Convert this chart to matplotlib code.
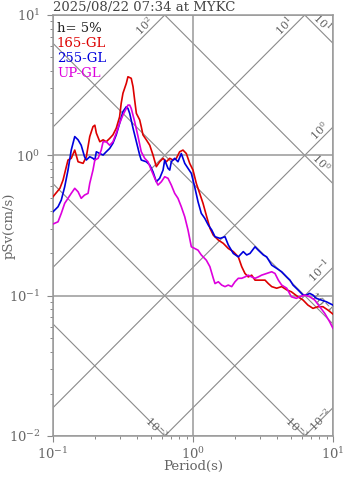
import numpy as np
import matplotlib.pyplot as plt

plt.rcParams['font.family'] = ['DejaVu Serif']
plt.rcParams['mathtext.fontset'] = 'dejavuserif'

TITLE = '2025/08/22 07:34 at MYKC'
DAMPING = 'h= 5%'

# period (s) / pseudo velocity response (cm/s)
red_T = [0.100, 0.112, 0.118, 0.1245, 0.128, 0.135, 0.143, 0.151, 0.164, 0.173,
         0.183, 0.193, 0.199, 0.204, 0.216, 0.228, 0.240, 0.254, 0.268, 0.283,
         0.299, 0.307, 0.316, 0.334, 0.343, 0.362, 0.373, 0.383, 0.394, 0.416,
         0.427, 0.439, 0.464, 0.491, 0.518, 0.547, 0.578, 0.611, 0.645, 0.682,
         0.720, 0.760, 0.803, 0.848, 0.896, 0.947, 1.000, 1.056, 1.116, 1.179,
         1.253, 1.322, 1.396, 1.517, 1.645, 1.786, 1.940, 2.107, 2.228, 2.350,
         2.483, 2.624, 2.773, 3.01, 3.27, 3.45, 3.65, 3.96, 4.30, 4.67,
         5.04, 5.62, 6.11, 6.62, 7.19, 7.81, 8.48, 9.21, 10.0]
red_sv = [0.507, 0.582, 0.667, 0.830, 0.926, 0.952, 1.09, 0.90, 0.877, 0.977,
          1.36, 1.60, 1.64, 1.44, 1.25, 1.29, 1.25, 1.32, 1.40, 1.56,
          1.88, 2.35, 2.77, 3.26, 3.63, 3.54, 3.08, 2.48, 1.99, 1.79,
          1.60, 1.40, 1.29, 1.18, 1.005, 0.83, 0.90, 0.952, 0.90, 0.952,
          0.926, 0.952, 1.06, 1.09, 1.03, 0.877, 0.785, 0.631, 0.536, 0.455,
          0.365, 0.302, 0.270, 0.249, 0.236, 0.217, 0.206, 0.189, 0.161, 0.144,
          0.136, 0.140, 0.129, 0.129, 0.129, 0.122, 0.116, 0.113, 0.116, 0.110,
          0.1066, 0.0982, 0.0931, 0.0857, 0.0812, 0.0834, 0.0834, 0.0789, 0.0739]

blue_T = [0.100, 0.1086, 0.1146, 0.1212, 0.128, 0.135, 0.143, 0.151, 0.159, 0.168,
          0.173, 0.183, 0.193, 0.199, 0.204, 0.216, 0.228, 0.240, 0.254, 0.268,
          0.283, 0.299, 0.316, 0.334, 0.343, 0.353, 0.373, 0.394, 0.416, 0.427,
          0.464, 0.491, 0.518, 0.547, 0.578, 0.611, 0.628, 0.663, 0.682, 0.700,
          0.740, 0.781, 0.825, 0.873, 0.921, 0.973, 1.028, 1.086, 1.146, 1.213,
          1.285, 1.36, 1.436, 1.56, 1.693, 1.786, 1.94, 2.107, 2.286, 2.418,
          2.553, 2.773, 2.926, 3.18, 3.36, 3.65, 3.96, 4.30, 4.67, 4.93,
          5.18, 5.62, 6.11, 6.44, 6.82, 7.19, 7.60, 8.24, 8.96, 10.0]
blue_sv = [0.396, 0.430, 0.480, 0.597, 0.785, 1.09, 1.36, 1.29, 1.18, 0.977,
           0.926, 0.977, 0.952, 0.926, 1.06, 1.03, 1.005, 1.06, 1.12, 1.22,
           1.40, 1.69, 2.05, 2.22, 2.16, 1.99, 1.56, 1.25, 1.005, 0.926,
           0.90, 0.853, 0.764, 0.648, 0.686, 0.785, 0.926, 0.808, 0.785, 0.90,
           0.952, 0.90, 1.03, 0.877, 0.808, 0.744, 0.597, 0.467, 0.386, 0.356,
           0.319, 0.294, 0.263, 0.256, 0.263, 0.230, 0.200, 0.189, 0.206, 0.195,
           0.200, 0.223, 0.211, 0.195, 0.189, 0.165, 0.1565, 0.148, 0.136, 0.129,
           0.119, 0.110, 0.101, 0.101, 0.1038, 0.101, 0.0957, 0.0931, 0.0905, 0.0857]

mag_T = [0.100, 0.1086, 0.1146, 0.1212, 0.128, 0.135, 0.143, 0.151, 0.159, 0.168,
         0.178, 0.183, 0.193, 0.199, 0.210, 0.221, 0.228, 0.240, 0.254, 0.268,
         0.283, 0.299, 0.316, 0.334, 0.343, 0.353, 0.362, 0.383, 0.405, 0.427,
         0.452, 0.477, 0.504, 0.533, 0.562, 0.594, 0.628, 0.663, 0.700, 0.740,
         0.781, 0.825, 0.873, 0.921, 0.973, 1.028, 1.086, 1.146, 1.245, 1.32,
         1.396, 1.436, 1.517, 1.603, 1.693, 1.786, 1.89, 1.995, 2.107, 2.228,
         2.35, 2.483, 2.624, 2.773, 2.926, 3.09, 3.36, 3.65, 3.85, 4.07,
         4.30, 4.67, 5.04, 5.47, 5.78, 6.28, 6.82, 7.40, 8.04, 8.73,
         9.46, 10.0]
mag_sv = [0.324, 0.336, 0.386, 0.455, 0.494, 0.536, 0.582, 0.550, 0.494, 0.521,
          0.536, 0.631, 0.785, 0.926, 0.952, 1.09, 1.25, 1.25, 1.18, 1.25,
          1.44, 1.69, 1.94, 2.16, 2.28, 2.28, 2.16, 1.74, 1.36, 1.06,
          0.952, 0.90, 0.785, 0.686, 0.614, 0.648, 0.704, 0.686, 0.614, 0.536,
          0.494, 0.430, 0.365, 0.294, 0.223, 0.217, 0.211, 0.195, 0.179, 0.161,
          0.133, 0.122, 0.1256, 0.119, 0.116, 0.119, 0.116, 0.1256, 0.133, 0.133,
          0.136, 0.140, 0.136, 0.133, 0.136, 0.140, 0.144, 0.148, 0.144, 0.129,
          0.119, 0.113, 0.0982, 0.0957, 0.0982, 0.101, 0.0982, 0.0931, 0.0834, 0.0748,
          0.0652, 0.0585]

SERIES = [('165-GL', red_T, red_sv, '#dd0000'),
          ('255-GL', blue_T, blue_sv, '#0000dd'),
          ('UP-GL', mag_T, mag_sv, '#dd00dd')]

# tripartite guide lines: acceleration (cm/s^2) and displacement (cm)
ACC_VALUES = [1e-2, 1e-1, 1e0, 1e1, 1e2]
DISP_VALUES = [1e-3, 1e-2, 1e-1, 1e0, 1e1]
ACC_TEXT = ['-2', '-1', '0', '1', '2']
DISP_TEXT = ['-3', '-3', '-1', '0', '1']

T_MIN, T_MAX = 0.1, 10.0
SV_MIN, SV_MAX = 0.01, 10.0

GRAY = '#666666'
LINE_GRAY = '#8a8a8a'
FS = 9.5


def acc_end(a):
    t_top = 2 * np.pi * SV_MAX / a
    if t_top <= T_MAX:
        return t_top, SV_MAX
    return T_MAX, a * T_MAX / (2 * np.pi)


def disp_end(d):
    t_bot = 2 * np.pi * d / SV_MIN
    if t_bot <= T_MAX:
        return t_bot, SV_MIN
    return T_MAX, 2 * np.pi * d / T_MAX


fig = plt.figure(figsize=(3.47, 4.78), dpi=100)
ax = fig.add_axes([53 / 347, 1 - 436 / 478, 280 / 347, 421 / 478])
ax.set_xscale('log')
ax.set_yscale('log')
ax.set_xlim(T_MIN, T_MAX)
ax.set_ylim(SV_MIN, SV_MAX)

px_per_dec = 280 / 2.0
t_line = np.array([0.01, 100.0])

for a, s in zip(ACC_VALUES, ACC_TEXT):
    ax.plot(t_line, a * t_line / (2 * np.pi), color=LINE_GRAY, lw=0.8, zorder=1)
    te, se = acc_end(a)
    at_top = se == SV_MAX
    back = 22 if at_top else (17 if a < 0.05 else 12)
    dl = back / (np.sqrt(2) * px_per_dec)
    ax.text(te * 10 ** -dl, se * 10 ** -dl, r'$\mathdefault{10^{%s}}$' % s,
            rotation=45, rotation_mode='anchor', ha='center',
            va='center' if a < 0.05 else 'bottom',
            fontsize=8, color=GRAY, zorder=1)

for d, s in zip(DISP_VALUES, DISP_TEXT):
    ax.plot(t_line, 2 * np.pi * d / t_line, color=LINE_GRAY, lw=0.8, zorder=1)
    te, se = disp_end(d)
    at_bot = se == SV_MIN
    back = 12 if at_bot else 23
    dl = back / (np.sqrt(2) * px_per_dec)
    ax.text(te * 10 ** -dl, se * 10 ** dl, r'$\mathdefault{10^{%s}}$' % s,
            rotation=-45, rotation_mode='anchor', ha='center',
            va='center' if at_bot else 'bottom',
            fontsize=8, color=GRAY, zorder=1)

ax.grid(True, which='major', color='#999999', lw=1.1, zorder=1)

for name, t, sv, c in SERIES:
    ax.plot(t, sv, color=c, lw=1.2, zorder=3)

# header text inside the axes
ax.text(0.014, 0.969, DAMPING, transform=ax.transAxes, fontsize=FS,
        color='#222222', va='center', ha='left', zorder=4)
for i, (name, t, sv, c) in enumerate(SERIES):
    ax.text(0.014, 0.933 - 0.0355 * i, name, transform=ax.transAxes, fontsize=FS,
            color=c, va='center', ha='left', zorder=4)

ax.set_title(TITLE, loc='left', fontsize=FS, color='#444444', pad=3)
ax.set_xlabel('Period(s)', fontsize=FS, color=GRAY)
ax.set_ylabel('pSv(cm/s)', fontsize=FS, color=GRAY)
ax.xaxis.set_label_coords(0.5, -0.058)
ax.yaxis.set_label_coords(-0.135, 0.5)

for sp in ax.spines.values():
    sp.set_color('#999999')
    sp.set_linewidth(1.1)
ax.tick_params(which='both', direction='out', color='#888888', labelcolor=GRAY,
               labelsize=FS)
ax.tick_params(which='major', length=4, width=0.8)
ax.tick_params(which='minor', length=2.5, width=0.7)
ax.tick_params(axis='y', which='major', pad=5)
ax.tick_params(axis='x', which='major', pad=3)

fig.savefig('out.png', dpi=100)
